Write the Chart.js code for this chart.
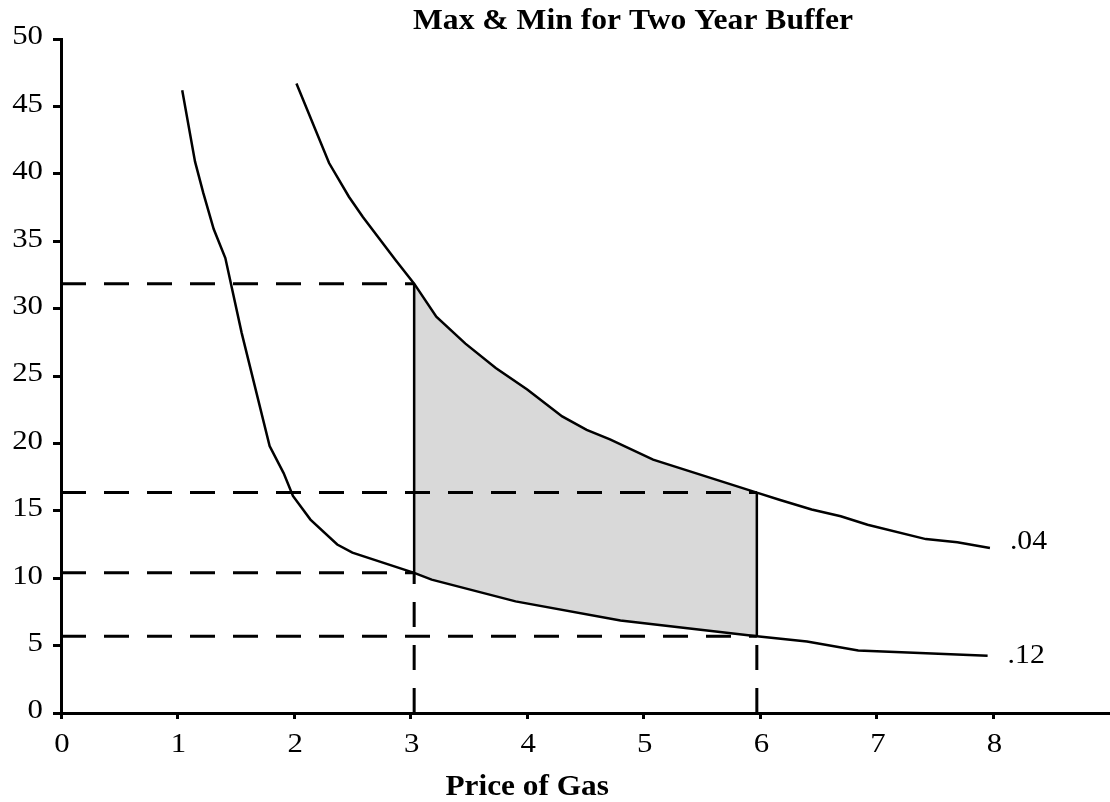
<!DOCTYPE html>
<html>
<head>
<meta charset="utf-8">
<script src="https://cdn.jsdelivr.net/npm/chart.js"></script>
<style>
  html, body { margin: 0; padding: 0; background: #fff; }
  #wrap { width: 1110px; height: 802px; }
</style>
</head>
<body>
<div id="wrap"><canvas id="bufferChart" width="1110" height="802"></canvas></div>
<script>
// --- values ---
const chartTitle = 'Max & Min for Two Year Buffer';
const xTitle = 'Price of Gas';

// .04 curve
const rate04Price = [2.02, 2.30, 2.47, 2.59, 2.87, 3.03, 3.22, 3.47, 3.73, 4.00, 4.30, 4.51, 4.71, 5.08, 5.97, 6.17, 6.44, 6.69, 6.92, 7.42, 7.69, 7.97];
const rate04Value = [46.7, 40.8, 38.3, 36.8, 33.6, 31.85, 29.4, 27.4, 25.6, 24.0, 22.0, 21.0, 20.3, 18.8, 16.35, 15.8, 15.1, 14.6, 13.97, 12.9, 12.66, 12.24];

// .12 curve
const rate12Price = [1.04, 1.15, 1.22, 1.31, 1.41, 1.55, 1.79, 1.91, 1.99, 2.14, 2.37, 2.50, 3.03, 3.18, 3.90, 4.80, 5.97, 6.40, 6.84, 7.95];
const rate12Value = [46.2, 40.9, 38.6, 35.9, 33.75, 28.2, 19.8, 17.8, 16.1, 14.35, 12.5, 11.9, 10.4, 9.89, 8.28, 6.87, 5.7, 5.31, 4.64, 4.25];

const curveLabels = ['.04', '.12'];
const bandPrices = [3.03, 5.97]; // min and max price of the shaded band
const priceTicks = [0, 1, 2, 3, 4, 5, 6, 7, 8];
const valueTicks = [0, 5, 10, 15, 20, 25, 30, 35, 40, 45, 50];

// --- helpers ---
const pts = (xs, ys) => xs.map((x, i) => ({ x: x, y: ys[i] }));
const valueAt = (xs, ys, x) => ys[xs.indexOf(x)];

const [lo, hi] = bandPrices;
const topLo = valueAt(rate04Price, rate04Value, lo);
const topHi = valueAt(rate04Price, rate04Value, hi);
const botLo = valueAt(rate12Price, rate12Value, lo);
const botHi = valueAt(rate12Price, rate12Value, hi);

// shaded region: top curve left to right, then bottom curve back
const bandTop = pts(rate04Price, rate04Value).filter(p => p.x >= lo && p.x <= hi);
const bandBottom = pts(rate12Price, rate12Value).filter(p => p.x >= lo && p.x <= hi).reverse();

const solid = { borderColor: '#000', borderWidth: 2.5, pointRadius: 0, fill: false, tension: 0 };
const dashed = { borderColor: '#000', borderWidth: 3, borderDash: [25, 18], pointRadius: 0, fill: false, tension: 0 };

const datasets = [
    Object.assign({ data: pts(rate04Price, rate04Value) }, solid),
    Object.assign({ data: pts(rate12Price, rate12Value) }, solid),
    Object.assign({ data: [{ x: lo, y: botLo }, { x: lo, y: topLo }] }, solid),
    Object.assign({ data: [{ x: hi, y: botHi }, { x: hi, y: topHi }] }, solid),
    // dashed guides to the axes
    Object.assign({ data: [{ x: 0, y: topLo }, { x: lo, y: topLo }] }, dashed),
    Object.assign({ data: [{ x: 0, y: topHi }, { x: hi, y: topHi }] }, dashed),
    Object.assign({ data: [{ x: 0, y: botLo }, { x: lo, y: botLo }] }, dashed),
    Object.assign({ data: [{ x: 0, y: botHi }, { x: hi, y: botHi }] }, dashed),
    Object.assign({ data: [{ x: lo, y: 0 }, { x: lo, y: botLo }] }, dashed),
    Object.assign({ data: [{ x: hi, y: 0 }, { x: hi, y: botHi }] }, dashed),
    {
        data: bandTop.concat(bandBottom),
        borderWidth: 0,
        pointRadius: 0,
        backgroundColor: '#d9d9d9',
        fill: 'shape',
        tension: 0
    }
];

// the reference text is a little wider than the serif font, so stretch it sideways
function wideText(ctx, text, x, y, align, sx) {
    ctx.save();
    ctx.translate(x, y);
    ctx.scale(sx, 1);
    ctx.textAlign = align;
    ctx.fillText(text, 0, 0);
    ctx.restore();
}

// --- texts drawn on the canvas ---
const textPlugin = {
    id: 'texts',
    afterDraw(chart) {
        const ctx = chart.ctx;
        const xs = chart.scales.x, ys = chart.scales.y;
        ctx.save();
        ctx.fillStyle = '#000';

        // tick labels
        ctx.font = '28px "Liberation Serif"';
        ctx.textBaseline = 'middle';
        valueTicks.forEach(v => wideText(ctx, String(v), 43, ys.getPixelForValue(v) - 2, 'right', 1.1));
        priceTicks.forEach(v => wideText(ctx, String(v), xs.getPixelForValue(v) + 1, 745, 'center', 1.1));

        // curve labels
        ctx.font = '27px "Liberation Serif"';
        [[rate04Price, rate04Value, -6], [rate12Price, rate12Value, 0]].forEach(([px, vy, dy], i) => {
            const n = px.length - 1;
            wideText(ctx, curveLabels[i], xs.getPixelForValue(px[n]) + 20, ys.getPixelForValue(vy[n]) + dy, 'left', 1.1);
        });

        // titles
        ctx.font = 'bold 29px "Liberation Serif"';
        ctx.textBaseline = 'alphabetic';
        wideText(ctx, chartTitle, 413, 29, 'left', 1.09);
        wideText(ctx, xTitle, xs.getPixelForValue(4), 795, 'center', 1.08);
        ctx.restore();
    }
};

new Chart(document.getElementById('bufferChart'), {
    type: 'line',
    data: { datasets: datasets },
    options: {
        responsive: false,
        animation: false,
        maintainAspectRatio: false,
        layout: { padding: { top: 39, right: 0, bottom: 0, left: 0 } },
        plugins: { legend: { display: false }, tooltip: { enabled: false }, title: { display: false } },
        scales: {
            x: {
                type: 'linear',
                min: 0,
                max: 9,
                afterFit: s => { s.height = 89; },
                border: { color: '#000', width: 3 },
                grid: {
                    drawOnChartArea: false,
                    tickLength: 6,
                    lineWidth: 3,
                    tickColor: c => (priceTicks.includes(c.tick.value) ? '#000' : 'rgba(0,0,0,0)')
                },
                ticks: { stepSize: 1, autoSkip: false, display: false }
            },
            y: {
                min: 0,
                max: 50,
                afterFit: s => { s.width = 61; },
                border: { color: '#000', width: 3 },
                grid: { drawOnChartArea: false, tickLength: 8, lineWidth: 3, tickColor: '#000' },
                ticks: { stepSize: 5, autoSkip: false, display: false }
            }
        }
    },
    plugins: [textPlugin]
});
</script>
</body>
</html>
